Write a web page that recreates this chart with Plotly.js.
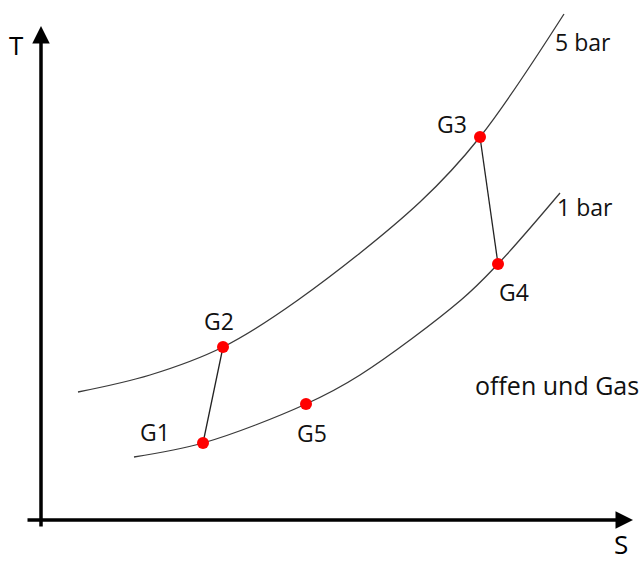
<!DOCTYPE html>
<html><head><meta charset="utf-8">
<script src="https://cdn.plot.ly/plotly-3.0.1.min.js"></script>
<style>html,body{margin:0;padding:0;background:#fff}#plot{width:644px;height:563px}</style>
</head><body><div id="plot"></div>
<script>
// Isobars (schematic T-s diagram, picture units)
const isobar5_s = [78, 150, 223, 298, 420, 480, 564];
const isobar5_T = [171, 188, 216, 263, 361, 426, 549];
const isobar1_s = [134, 203, 306, 360, 461, 498, 560];
const isobar1_T = [106, 120, 159, 188, 263, 299, 370];
const isobarLabels = ["5 bar", "1 bar"];
// State points
const pointNames = ["G1", "G2", "G3", "G4", "G5"];
const point_s = [203, 223, 480, 498, 306];
const point_T = [120, 216, 426, 299, 159];
// Processes (indices into points)
const processes = [[0, 1], [2, 3]];
const note = "offen und Gas";
const axisLabels = ["T", "S"];

const FONT = "'Open Sans', Lato, sans-serif";
const FS = 23;
const traces = [];
traces.push({x: isobar5_s, y: isobar5_T, mode: "lines", line: {color: "#3a3a3a", width: 1.3, shape: "spline", smoothing: 1}, hoverinfo: "skip"});
traces.push({x: isobar1_s, y: isobar1_T, mode: "lines", line: {color: "#3a3a3a", width: 1.3, shape: "spline", smoothing: 1}, hoverinfo: "skip"});
processes.forEach(p => {
  traces.push({x: [point_s[p[0]], point_s[p[1]]], y: [point_T[p[0]], point_T[p[1]]], mode: "lines", line: {color: "#222", width: 1.3}, hoverinfo: "skip"});
});
traces.push({x: point_s, y: point_T, mode: "markers", marker: {color: "#ff0000", size: 12}, hoverinfo: "skip"});

// label offsets in pixels relative to points (dx right, dy down)
const labelOffsets = [[-48, -11], [-4, -26], [-28, -13], [16, 28], [6, 29]];
const annotations = pointNames.map((n, i) => ({
  x: point_s[i], y: point_T[i], xref: "x", yref: "y", text: n, showarrow: false,
  xshift: labelOffsets[i][0], yshift: -labelOffsets[i][1],
  font: {family: FONT, size: FS, color: "#111"}
}));
annotations.push({x: isobar5_s[isobar5_s.length-1], y: isobar5_T[isobar5_T.length-1], text: isobarLabels[0], showarrow: false, xanchor: "left", xshift: -11, yshift: -28, font: {family: FONT, size: FS, color: "#111"}});
annotations.push({x: isobar1_s[isobar1_s.length-1], y: isobar1_T[isobar1_T.length-1], text: isobarLabels[1], showarrow: false, xanchor: "left", xshift: -5, yshift: -14, font: {family: FONT, size: FS, color: "#111"}});
annotations.push({x: 473, y: 178, text: note, showarrow: false, xanchor: "left", font: {family: FONT, size: 25, color: "#111"}});
// axes arrows
annotations.push({x: 41, y: 537, ax: 41, ay: 35, xref: "x", yref: "y", axref: "x", ayref: "y", text: "", showarrow: true, arrowhead: 2, arrowsize: 1, arrowwidth: 3.5, arrowcolor: "#000"});
annotations.push({x: 633, y: 43, ax: 26, ay: 43, xref: "x", yref: "y", axref: "x", ayref: "y", text: "", showarrow: true, arrowhead: 2, arrowsize: 1, arrowwidth: 3.5, arrowcolor: "#000"});
annotations.push({x: 16, y: 518, text: axisLabels[0], showarrow: false, font: {family: FONT, size: 26, color: "#000"}});
annotations.push({x: 621, y: 19, text: axisLabels[1], showarrow: false, font: {family: FONT, size: 26, color: "#000"}});

const layout = {
  width: 644, height: 563, margin: {l: 0, r: 0, t: 0, b: 0},
  paper_bgcolor: "#fff", plot_bgcolor: "#fff", showlegend: false,
  xaxis: {range: [0, 644], visible: false, fixedrange: true},
  yaxis: {range: [0, 563], visible: false, fixedrange: true},
  annotations: annotations
};
Plotly.newPlot("plot", traces, layout, {staticPlot: true});
</script></body></html>
